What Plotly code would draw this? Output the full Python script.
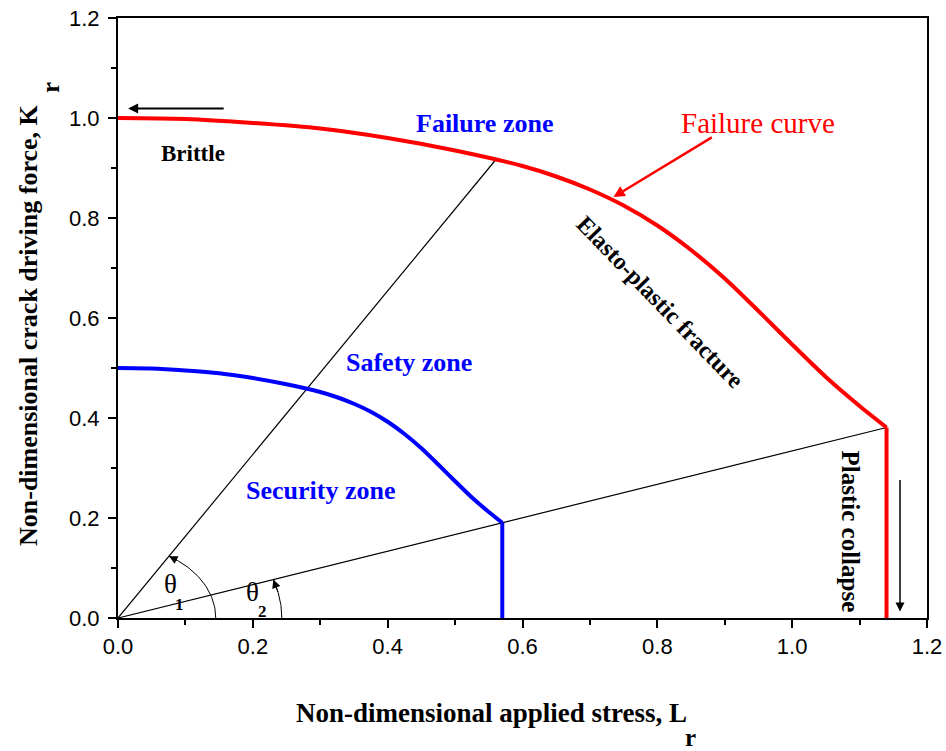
import numpy as np
import plotly.graph_objects as go

# Failure assessment curve (Lr, Kr)
fail_lr = [0.00, 0.10, 0.20, 0.30, 0.40, 0.50, 0.60, 0.65, 0.70, 0.75, 0.80,
           0.85, 0.90, 0.95, 1.00, 1.05, 1.10, 1.14]
fail_kr = [1.000, 0.998, 0.990, 0.979, 0.960, 0.935, 0.904, 0.883, 0.857, 0.825,
           0.785, 0.736, 0.679, 0.614, 0.547, 0.482, 0.424, 0.381]
fail_cut_lr = [1.14, 1.14]
fail_cut_kr = [0.381, 0.0]

# Safety curve (Lr, Kr)
safe_lr = [0.000, 0.050, 0.100, 0.150, 0.200, 0.250, 0.300, 0.325, 0.350, 0.375,
           0.400, 0.425, 0.450, 0.475, 0.500, 0.525, 0.550, 0.570]
safe_kr = [0.500, 0.499, 0.495, 0.4895, 0.480, 0.4675, 0.452, 0.4415, 0.4285,
           0.4125, 0.3925, 0.368, 0.3395, 0.307, 0.2735, 0.241, 0.212, 0.1905]
safe_cut_lr = [0.57, 0.57]
safe_cut_kr = [0.1905, 0.0]

# Load lines from the origin
ray1_lr = [0.0, 0.56]
ray1_kr = [0.0, 0.916]
ray2_lr = [0.0, 1.14]
ray2_kr = [0.0, 0.381]

x_ticks = [0.0, 0.2, 0.4, 0.6, 0.8, 1.0, 1.2]
y_ticks = [0.0, 0.2, 0.4, 0.6, 0.8, 1.0, 1.2]

SERIF = "Liberation Serif"
SANS = "Liberation Sans"

fig = go.Figure()

fig.add_trace(go.Scatter(x=ray1_lr, y=ray1_kr, mode="lines",
                         line=dict(color="black", width=1.2), hoverinfo="skip"))
fig.add_trace(go.Scatter(x=ray2_lr, y=ray2_kr, mode="lines",
                         line=dict(color="black", width=1.2), hoverinfo="skip"))

fig.add_trace(go.Scatter(x=fail_lr, y=fail_kr, mode="lines",
                         line=dict(color="#ff0000", width=4, shape="spline",
                                   smoothing=0.8),
                         hoverinfo="skip"))
fig.add_trace(go.Scatter(x=fail_cut_lr, y=fail_cut_kr, mode="lines",
                         line=dict(color="#ff0000", width=4), hoverinfo="skip"))
fig.add_trace(go.Scatter(x=safe_lr, y=safe_kr, mode="lines",
                         line=dict(color="#0000ff", width=4, shape="spline",
                                   smoothing=0.8),
                         hoverinfo="skip"))
fig.add_trace(go.Scatter(x=safe_cut_lr, y=safe_cut_kr, mode="lines",
                         line=dict(color="#0000ff", width=4), hoverinfo="skip"))

# Angle arcs for theta1 and theta2
ang1 = np.arctan2(ray1_kr[1], ray1_lr[1])
ang2 = np.arctan2(ray2_kr[1], ray2_lr[1])
r1, r2 = 0.145, 0.243
t1 = np.linspace(0, ang1, 40)
t2 = np.linspace(0, ang2, 30)
fig.add_trace(go.Scatter(x=r1 * np.cos(t1), y=r1 * np.sin(t1), mode="lines",
                         line=dict(color="black", width=1), hoverinfo="skip"))
fig.add_trace(go.Scatter(x=r2 * np.cos(t2), y=r2 * np.sin(t2), mode="lines",
                         line=dict(color="black", width=1), hoverinfo="skip"))

annotations = []


def arrow(x, y, ax, ay, color, width, size=1.0, head=2):
    annotations.append(dict(x=x, y=y, ax=ax, ay=ay, xref="x", yref="y",
                            axref="x", ayref="y", showarrow=True, text="",
                            arrowhead=head, arrowsize=size, arrowwidth=width,
                            arrowcolor=color))


# arc arrowheads
arrow(r1 * np.cos(ang1), r1 * np.sin(ang1),
      r1 * np.cos(ang1 - 0.12), r1 * np.sin(ang1 - 0.12), "black", 1, 1.7)
arrow(r2 * np.cos(ang2), r2 * np.sin(ang2),
      r2 * np.cos(ang2 - 0.12), r2 * np.sin(ang2 - 0.12), "black", 1, 1.7)

# pointer arrows
arrow(0.015, 1.019, 0.159, 1.019, "black", 2, 1.0)
arrow(0.735, 0.842, 0.883, 0.963, "#ff0000", 2.5, 0.9)
arrow(1.160, 0.013, 1.160, 0.279, "black", 1.5, 1.2)


def label(x, y, text, size, color="black", angle=0, family=SERIF):
    annotations.append(dict(x=x, y=y, xref="x", yref="y", text=text,
                            showarrow=False, textangle=angle,
                            xanchor="center", yanchor="middle",
                            font=dict(family=family, size=size, color=color)))


label(0.111, 0.93, "<b>Brittle</b>", 23)
label(0.544, 0.99, "<b>Failure zone</b>", 26, "#0000ff")
label(0.950, 0.99, "Failure curve", 29, "#ff0000")
label(0.804, 0.632, "<b>Elasto-plastic fracture</b>", 24, angle=46)
label(0.431, 0.512, "<b>Safety zone</b>", 26, "#0000ff")
label(0.301, 0.256, "<b>Security zone</b>", 26, "#0000ff")
label(1.088, 0.172, "<b>Plastic collapse</b>", 25, angle=90)
label(0.078, 0.068, "θ", 27)
label(0.091, 0.028, "<b>1</b>", 17)
label(0.199, 0.052, "θ", 27)
label(0.214, 0.014, "<b>2</b>", 17)

# axis titles with detached subscripts (positions in pixels, converted below)
annotations.append(dict(x=491, y=751 - 713, xref="paper", yref="paper",
                        text="<b>Non-dimensional applied stress, L</b>",
                        showarrow=False, xanchor="center", yanchor="middle",
                        font=dict(family=SERIF, size=27, color="black")))
annotations.append(dict(x=690, y=751 - 737, xref="paper", yref="paper",
                        text="<b>r</b>", showarrow=False,
                        xanchor="center", yanchor="middle",
                        font=dict(family=SERIF, size=25, color="black")))
annotations.append(dict(x=28, y=751 - 325, xref="paper", yref="paper",
                        text="<b>Non-dimensional crack driving force, K</b>",
                        showarrow=False, textangle=-90,
                        xanchor="center", yanchor="middle",
                        font=dict(family=SERIF, size=26, color="black")))
annotations.append(dict(x=50, y=751 - 88, xref="paper", yref="paper",
                        text="<b>r</b>", showarrow=False, textangle=-90,
                        xanchor="center", yanchor="middle",
                        font=dict(family=SERIF, size=25, color="black")))

L, R, T, B = 118, 19, 18, 133
W, H = 946, 751
for a in annotations:
    if a.get("xref") == "paper":
        a["x"] = (a["x"] - L) / (W - L - R)
        a["y"] = (a["y"] - B) / (H - T - B)

axis_common = dict(
    range=[0, 1.2], showgrid=False, zeroline=False, automargin=False,
    showline=True, linecolor="black", linewidth=2, mirror=True,
    ticks="outside", ticklen=8, tickwidth=2, tickcolor="black",
    tickformat=".1f",
    tickfont=dict(family=SANS, size=22, color="black"),
    minor=dict(ticks="outside", ticklen=5, tickwidth=1.5, tickcolor="black",
               dtick=0.1),
)

fig.update_layout(
    width=W, height=H,
    margin=dict(l=L, r=R, t=T, b=B),
    plot_bgcolor="white", paper_bgcolor="white",
    showlegend=False,
    xaxis=dict(tickvals=x_ticks, **axis_common),
    yaxis=dict(tickvals=y_ticks, ticklabelstandoff=4, **axis_common),
    annotations=annotations,
)

fig.write_html("out.html")
